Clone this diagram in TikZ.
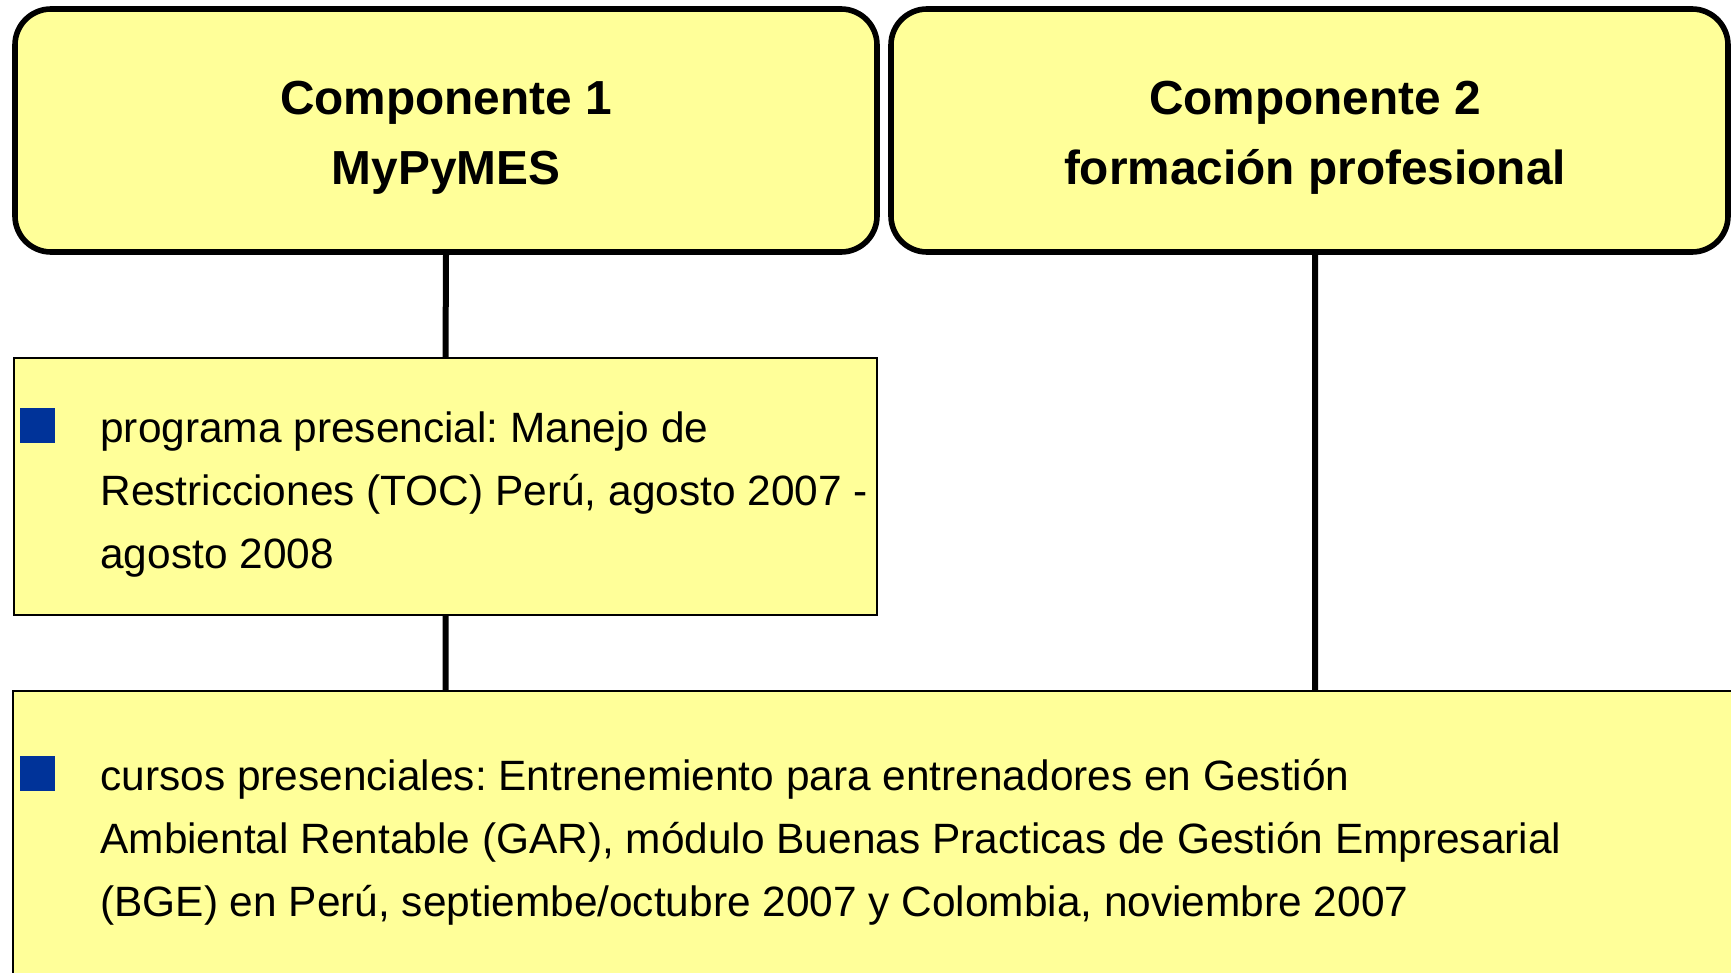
\documentclass[tikz,border=0pt]{standalone}
\usepackage{fontspec}
\setmainfont{Liberation Sans}
\usepackage{xcolor}
\usetikzlibrary{
    calc,
    positioning
}
\frenchspacing
\definecolor{pyellow}{RGB}{255,255,153}
\definecolor{pblue}{RGB}{0,51,153}
\tikzset{cmpb/.style={draw=black, line width=2.8pt, fill=pyellow, rounded corners=18pt, inner sep=0pt}}
\tikzset{cmpt/.style={align=center, inner sep=0pt, font=\bfseries\fontsize{23.9}{35}\selectfont}}
\tikzset{itmb/.style={draw=black, line width=0.6pt, fill=pyellow, inner sep=0pt}}
\tikzset{itmsq/.style={inner sep=0pt, minimum size=17.5pt, fill=pblue}}
\tikzset{itmtx/.style={inner sep=0pt, anchor=base west, align=left, font=\fontsize{21.2}{31.5}\selectfont}}
\tikzset{lnk/.style={line width=3pt}}

\begin{document}
\begin{tikzpicture}[x=0.5pt, y=-0.5pt]
                        \useasboundingbox (0, 0) rectangle (1731, 973);
                        \node[cmpb, minimum width=431pt, minimum height=121.5pt] (comp1) at (446, 130.5) {};
                        \node[cmpb, minimum width=418.5pt, minimum height=121.5pt] (comp2) at (1309.5, 130.5) {};
                        \node[cmpt] (tit1) at (446, 138) {Componente 1\\MyPyMES};
                        \node[cmpt] (tit2) at (1315, 138) {Componente 2\\formación profesional};
                        \node[itmb, minimum width=431.5pt, minimum height=128.5pt] (prog) at (445.5, 486.5) {};
                        \node[itmb, minimum width=866pt, minimum height=154.5pt] (curs) at (879, 845.5) {};

                        \node[itmsq] (sq1) at (37, 426) {};
                        \node[itmtx] (txt1) at (100, 568) {programa presencial: Manejo de\\Restricciones (TOC) Perú, agosto 2007 -\\agosto 2008};
                        \node[itmsq] (sq2) at (37, 773) {};
                        \node[itmtx] (txt2) at (100, 916) {cursos presenciales: Entrenemiento para entrenadores en Gestión\\Ambiental Rentable (GAR), módulo Buenas Practicas de Gestión Empresarial\\(BGE) en Perú, septiembe/octubre 2007 y Colombia, noviembre 2007};

                        \draw[lnk]
                        (comp1.south) -- (prog.north)
                        (prog.south) -- (prog.south |- curs.north)
                        (tit2 |- comp2.south) -- (tit2 |- curs.north);
                    \end{tikzpicture}
\end{document}
